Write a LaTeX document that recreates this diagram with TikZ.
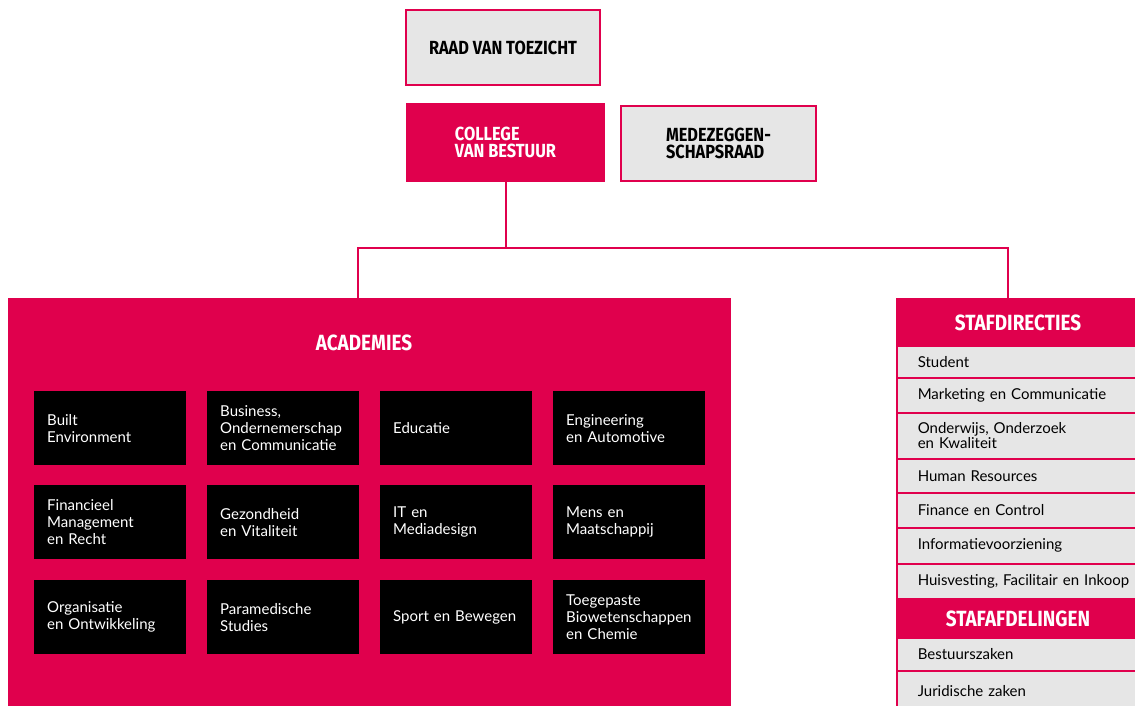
\documentclass[tikz,border=0pt]{standalone}
\usepackage{fontspec}
\setmainfont{Lato}
\newfontfamily\hfont{Fira Sans}[FakeStretch=0.86]
\definecolor{hpink}{HTML}{E0004D}
\definecolor{hgray}{HTML}{E6E6E6}
\begin{document}
\begin{tikzpicture}[x=1pt,y=-1pt,
  graybox/.style={draw=hpink,line width=2pt,fill=hgray,anchor=north west,inner sep=0pt},
  pinkbox/.style={draw=hpink,line width=2pt,fill=hpink,anchor=north west,inner sep=0pt},
  htext/.style={font=\hfont\bfseries\fontsize{19}{17}\selectfont},
  bigtext/.style={font=\hfont\bfseries\fontsize{22}{22}\selectfont},
  acad/.style={fill=black,anchor=north west,minimum width=152pt,minimum height=74pt,text width=126pt,inner xsep=13pt,inner ysep=0pt,align=left,text=white,font=\fontsize{15}{17}\selectfont},
  row/.style={draw=hpink,line width=1.5pt,fill=hgray,anchor=north west,minimum width=260pt,text width=230pt,inner xsep=21pt,inner ysep=0pt,align=left,font=\fontsize{15}{15.5}\selectfont},
  conn/.style={draw=hpink,line width=2pt}]
\clip (0,0) rectangle (1135,706);
\fill[white] (0,0) rectangle (1135,706);
% top boxes
\node[graybox,minimum width=194pt,minimum height=75pt,htext] (rvt) at (405,9) {RAAD VAN TOEZICHT};
\node[pinkbox,minimum width=197pt,minimum height=77pt,htext,text=white,align=left] (cvb) at (406,103) {COLLEGE\\VAN BESTUUR};
\node[graybox,minimum width=195pt,minimum height=75pt,htext,align=left] (msr) at (620,105) {MEDEZEGGEN-\\SCHAPSRAAD};
% academies panel
\node[fill=hpink,anchor=north west,minimum width=723pt,minimum height=430pt,inner sep=0pt] (acadpanel) at (8,298) {};
\node[bigtext,text=white] (acadtitle) at (364,343) {ACADEMIES};
% black boxes
\node[acad] (b11) at (34,391) {Built\\Environment};
\node[acad] (b12) at (207,391) {Business,\\Ondernemerschap\\en Communicatie};
\node[acad] (b13) at (380,391) {Educatie};
\node[acad] (b14) at (553,391) {Engineering\\en Automotive};
\node[acad] (b21) at (34,485) {Financieel\\Management\\en Recht};
\node[acad] (b22) at (207,485) {Gezondheid\\en Vitaliteit};
\node[acad] (b23) at (380,485) {IT en\\Mediadesign};
\node[acad] (b24) at (553,485) {Mens en\\Maatschappij};
\node[acad] (b31) at (34,580) {Organisatie\\en Ontwikkeling};
\node[acad] (b32) at (207,580) {Paramedische\\Studies};
\node[acad] (b33) at (380,580) {Sport en Bewegen};
\node[acad] (b34) at (553,580) {Toegepaste\\Biowetenschappen\\en Chemie};
% staf panel
\node[pinkbox,minimum width=260pt,minimum height=47pt,bigtext,text=white] (stafhead) at (896,298) {\hspace*{-18pt}STAFDIRECTIES};
\node[row,minimum height=32pt] (s1) at (896,345) {Student};
\node[row,minimum height=35pt] (s2) at (896,377) {Marketing en Communicatie};
\node[row,minimum height=46pt] (s3) at (896,412) {Onderwijs, Onderzoek\\en Kwaliteit};
\node[row,minimum height=34pt] (s4) at (896,458) {Human Resources};
\node[row,minimum height=35pt] (s5) at (896,492) {Finance en Control};
\node[row,minimum height=36pt] (s6) at (896,527) {Informatievoorziening};
\node[row,minimum height=35pt] (s7) at (896,563) {Huisvesting, Facilitair en Inkoop};
\node[pinkbox,minimum width=260pt,minimum height=39pt,bigtext,text=white] (afhead) at (896,598) {\hspace*{-18pt}STAFAFDELINGEN};
\node[row,minimum height=33pt] (a1) at (896,637) {Bestuurszaken};
\node[row,minimum height=40pt] (a2) at (896,670) {Juridische zaken};
% connectors
\coordinate (j) at (504.5,248);
\coordinate (jl) at (358,248);
\coordinate (jr) at (1008,248);
\draw[conn] (cvb.south) -- (cvb.south |- j);
\draw[conn] (acadpanel.north -| jl) -- (jl) -- (jr) -- (stafhead.north -| jr);
\end{tikzpicture}
\end{document}
